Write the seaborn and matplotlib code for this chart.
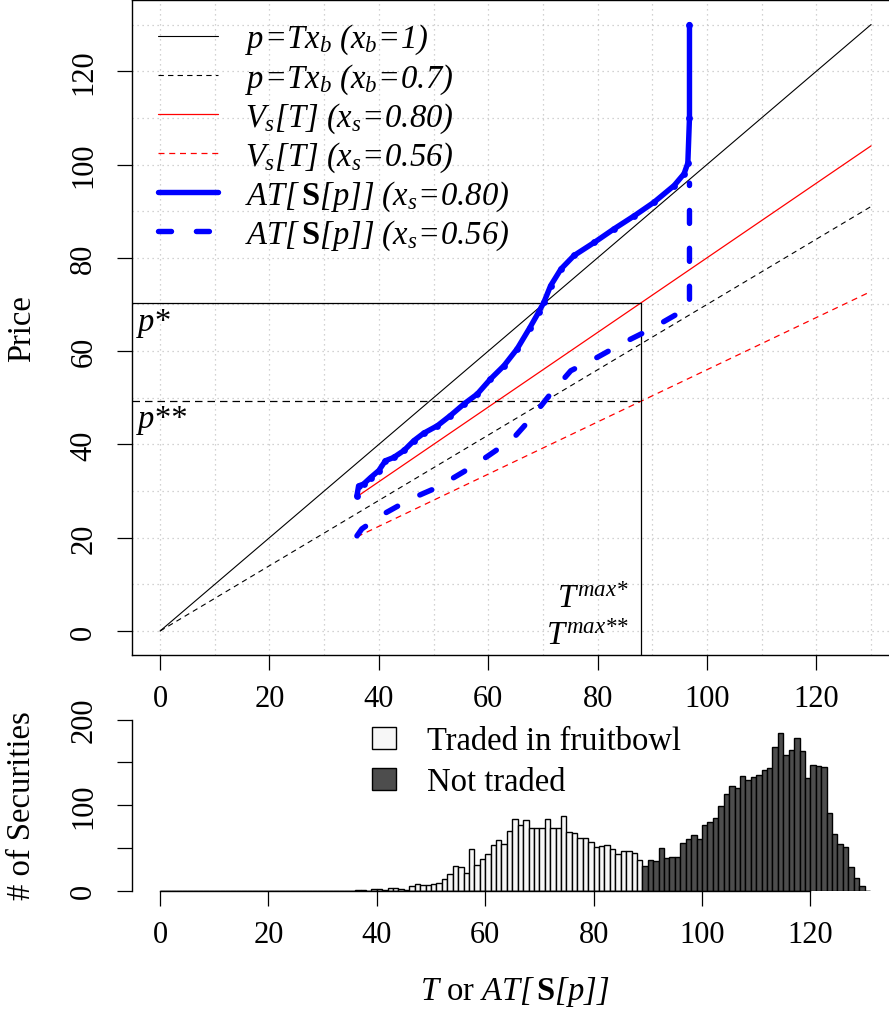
import numpy as np
import pandas as pd
import matplotlib
matplotlib.use("Agg")
import matplotlib.pyplot as plt
import seaborn as sns
from matplotlib.lines import Line2D
from matplotlib.patches import Patch
from matplotlib.ticker import MultipleLocator

# ---------------- data ----------------
# reference price lines p = T * x_b
line_T = [0, 130]
price_xb1 = [0, 130]
price_xb07 = [0, 91]

# seller valuation V_s[T]
vs_T = [36, 130]
vs_080 = [28.8, 104.0]
vs_056 = [20.2, 72.8]

# average type AT[S[p]] for x_s = 0.80
at080_T = [36.0, 36.3, 37.2, 38.5, 40.0, 41.2, 42.7, 44.6, 46.4, 48.2, 50.7,
           53.1, 55.6, 58.0, 60.4, 62.9, 65.3, 67.6, 69.2, 70.2, 71.4, 73.3,
           75.7, 79.4, 83.0, 86.7, 90.3, 94.0, 95.8, 96.5, 96.8, 96.8]
at080_p = [29.0, 31.1, 31.5, 32.9, 34.4, 36.5, 37.2, 38.7, 40.8, 42.4, 44.0,
           46.2, 48.7, 50.8, 54.0, 56.9, 60.5, 65.0, 68.3, 70.5, 74.0, 77.6,
           80.5, 83.3, 86.2, 89.0, 91.9, 95.5, 98.0, 100.3, 110.0, 130.0]

# average type AT[S[p]] for x_s = 0.56
at056_T = [36.0, 36.9, 40.9, 45.8, 50.7, 55.6, 59.8, 64.5, 68.0, 71.1, 75.1,
           80.0, 84.9, 89.7, 94.6, 96.8, 96.8]
at056_p = [20.4, 21.9, 25.1, 28.3, 30.8, 34.2, 37.4, 41.2, 45.8, 50.4, 55.8,
           58.7, 61.9, 64.7, 68.0, 69.3, 96.0]

p_star = 70.4
p_2star = 49.3
T_max = 88

# histogram of securities (unit-width bins from 0 to 131)
hist_lo, hist_hi = 0, 131
traded_first = 36
traded_counts = [1, 1, 0, 2, 2, 1, 3, 3, 2, 1, 5, 8, 6, 7, 8, 9, 14, 19, 29, 28,
                 20, 48, 30, 37, 43, 53, 59, 54, 70, 84, 77, 82, 73, 73, 73, 84,
                 73, 73, 87, 69, 67, 61, 61, 57, 51, 52, 53, 49, 43, 46, 46, 44, 36]
untraded_first = 89
untraded_counts = [29, 36, 34, 50, 38, 39, 39, 56, 60, 65, 60, 77, 80, 85, 99,
                   113, 122, 120, 134, 129, 133, 135, 141, 143, 168, 184, 158,
                   164, 178, 163, 131, 147, 146, 145, 91, 66, 54, 51, 27, 15, 5]

xticks = [0, 20, 40, 60, 80, 100, 120]
price_ticks = [0, 20, 40, 60, 80, 100, 120]
count_ticks = [0, 50, 100, 150, 200]
count_ticklabels = ["0", "", "100", "", "200"]

# ---------------- style ----------------
TICK_FS = 22
LABEL_FS = 23.5
LEGEND_FS = 23.5

sns.set_style("ticks")
plt.rcParams.update({
    "font.family": ["Liberation Serif", "DejaVu Serif"],
    "mathtext.fontset": "custom",
    "mathtext.rm": "Liberation Serif:italic",
    "mathtext.it": "Liberation Serif:italic",
    "mathtext.bf": "Liberation Serif:bold",
    "font.size": TICK_FS,
    "axes.edgecolor": "black",
    "axes.linewidth": 1.0,
    "xtick.color": "black",
    "ytick.color": "black",
    "text.color": "black",
    "axes.labelcolor": "black",
})

W, H = 889, 1012
fig = plt.figure(figsize=(W / 100, H / 100), dpi=100)
fig.patch.set_facecolor("white")


def fx(px):
    return px / W


def fy(py):
    return 1 - py / H


# ---------------- top panel ----------------
ax = fig.add_axes([fx(131.6), fy(656.3), fx(899.5 - 131.6), (656.3 - 1.3) / H])
ax.set_xlim(-5.2, 135.2)
ax.set_ylim(-5.2, 135.2)

grid_kw = dict(color="#c4c4c4", lw=0.9, ls=(0, (1, 3)), zorder=0)
ax.xaxis.set_major_locator(MultipleLocator(20))
ax.yaxis.set_major_locator(MultipleLocator(20))
ax.xaxis.set_minor_locator(MultipleLocator(10))
ax.yaxis.set_minor_locator(MultipleLocator(10))
ax.grid(which="both", **grid_kw)
ax.set_axisbelow(True)

black_dash = (0, (4.8, 3.8))
sns.lineplot(x=line_T, y=price_xb1, ax=ax, color="black", lw=0.8,
             estimator=None, sort=False)
sns.lineplot(x=line_T, y=price_xb07, ax=ax, color="black", lw=0.8,
             linestyle=black_dash, estimator=None, sort=False)
sns.lineplot(x=vs_T, y=vs_080, ax=ax, color="#ff0000", lw=0.9,
             estimator=None, sort=False)
sns.lineplot(x=vs_T, y=vs_056, ax=ax, color="#ff0000", lw=0.9,
             linestyle=black_dash, estimator=None, sort=False)

# equilibrium price levels and maximum traded type
ax.plot([-5.2, T_max], [p_star, p_star], color="black", lw=0.9)
ax.plot([-5.2, T_max], [p_2star, p_2star], color="black", lw=0.9,
        ls=(0, (6, 4)))
ax.plot([T_max, T_max], [-5.2, p_star], color="black", lw=0.9)

sns.lineplot(x=at080_T, y=at080_p, ax=ax, color="#0000ff", lw=3.9,
             estimator=None, sort=False, marker="o", markersize=4.9,
             markeredgewidth=0, solid_capstyle="round",
             solid_joinstyle="round", zorder=5)
blue_dash = (0, (2.4, 4.6))
sns.lineplot(x=at056_T, y=at056_p, ax=ax, color="#0000ff", lw=3.9,
             linestyle=blue_dash, dash_capstyle="round",
             estimator=None, sort=False, zorder=5)

ax.text(-4.0, 64.5, "p*", fontstyle="italic", ha="left", va="baseline",
        fontsize=LABEL_FS)
ax.text(-4.0, 43.7, "p**", fontstyle="italic", ha="left", va="baseline",
        fontsize=LABEL_FS)
ax.text(85.7, 5.1, r"$T^{max{*}}$", ha="right", va="baseline",
        fontsize=LABEL_FS)
ax.text(85.7, -2.8, r"$T^{max{*}{*}}$", ha="right", va="baseline",
        fontsize=LABEL_FS)

ax.set_xticks(xticks)
ax.set_yticks(price_ticks)
ax.tick_params(which="major", direction="out", length=11, width=0.9, pad=10)
ax.tick_params(which="minor", length=0)
ax.tick_params(axis="y", labelrotation=90, pad=13)
for lbl in ax.get_yticklabels():
    lbl.set_verticalalignment("center")
for s in ax.spines.values():
    s.set_visible(True)
    s.set_linewidth(1.0)
ax.set_xlabel("")
ax.set_ylabel("Price", fontsize=LABEL_FS)
ax.yaxis.set_label_coords((22 - 131.6) / (899.5 - 131.6), 0.5)
ax.yaxis.label.set_verticalalignment("center")

legend_handles = [
    Line2D([], [], color="black", lw=0.8),
    Line2D([], [], color="black", lw=0.8, ls=black_dash),
    Line2D([], [], color="#ff0000", lw=0.9),
    Line2D([], [], color="#ff0000", lw=0.9, ls=black_dash),
    Line2D([], [], color="#0000ff", lw=3.9, solid_capstyle="round"),
    Line2D([], [], color="#0000ff", lw=3.9, ls=blue_dash,
           dash_capstyle="round"),
]
legend_labels = [
    r"$p\!=\!Tx_b\ (x_b\!=\!1)$",
    r"$p\!=\!Tx_b\ (x_b\!=\!0.7)$",
    r"$V_s[T]\ (x_s\!=\!0.80)$",
    r"$V_s[T]\ (x_s\!=\!0.56)$",
    r"$AT[\,\mathbf{S}[p]]\ (x_s\!=\!0.80)$",
    r"$AT[\,\mathbf{S}[p]]\ (x_s\!=\!0.56)$",
]
leg = ax.legend(legend_handles, legend_labels, loc="upper left",
                bbox_to_anchor=(fx(158), fy(23)),
                bbox_transform=fig.transFigure, frameon=False,
                handlelength=60 / 32.6, handletextpad=27 / 32.6,
                labelspacing=0.14, borderpad=0, borderaxespad=0,
                fontsize=LEGEND_FS)

# ---------------- histogram panel ----------------
axh = fig.add_axes([fx(131.6), fy(891.5), fx(898.4 - 131.6), (891.5 - 720.5) / H])
edges = np.arange(hist_lo, hist_hi + 1)
centers = edges[:-1] + 0.5
counts = np.zeros(len(centers))
counts[traded_first:traded_first + len(traded_counts)] = traded_counts
counts[untraded_first:untraded_first + len(untraded_counts)] = untraded_counts
hist_df = pd.DataFrame({"T": centers, "n": counts,
                        "traded": centers < untraded_first})

white_fill = "#f7f7f7"
dark_fill = "#4d4d4d"
sns.histplot(data=hist_df[hist_df["traded"]], x="T", weights="n",
             bins=list(edges), ax=axh, color=white_fill, edgecolor="black",
             linewidth=1.0, alpha=1)
sns.histplot(data=hist_df[~hist_df["traded"]], x="T", weights="n",
             bins=list(edges), ax=axh, color=dark_fill, edgecolor="black",
             linewidth=1.0, alpha=1)
axh.set_xlim(-5.24, 136.24)
axh.set_ylim(0, 200)
axh.set_xticks(xticks)
axh.set_yticks(count_ticks)
axh.set_yticklabels(count_ticklabels)
axh.spines["top"].set_visible(False)
axh.spines["right"].set_visible(False)
axh.spines["bottom"].set_bounds(0, 120)
axh.spines["left"].set_bounds(0, 200)
axh.tick_params(direction="out", length=11, width=0.9, pad=10)
axh.tick_params(axis="y", labelrotation=90, pad=13)
for lbl in axh.get_yticklabels():
    lbl.set_verticalalignment("center")
axh.set_ylabel("# of Securities", fontsize=LABEL_FS)
axh.yaxis.set_label_coords((22 - 131.6) / (898.4 - 131.6), 0.5)
axh.yaxis.label.set_verticalalignment("center")
axh.set_xlabel(r"$T$ or $AT[\,\mathbf{S}[p]]$", fontsize=LABEL_FS)
axh.xaxis.set_label_coords(0.5, (891.5 - 992) / (891.5 - 720.5))
axh.xaxis.label.set_verticalalignment("center")

hist_handles = [Patch(facecolor=white_fill, edgecolor="black", lw=1.0),
                Patch(facecolor=dark_fill, edgecolor="black", lw=1.0)]
axh.legend(hist_handles, ["Traded in fruitbowl", "Not traded"],
           loc="upper left", bbox_to_anchor=(fx(372), fy(727)),
           bbox_transform=fig.transFigure, frameon=False,
           handlelength=0.72, handleheight=0.62, handletextpad=0.95,
           labelspacing=0.32, borderpad=0, borderaxespad=0,
           fontsize=LEGEND_FS)

fig.savefig("out.png", dpi=100)
